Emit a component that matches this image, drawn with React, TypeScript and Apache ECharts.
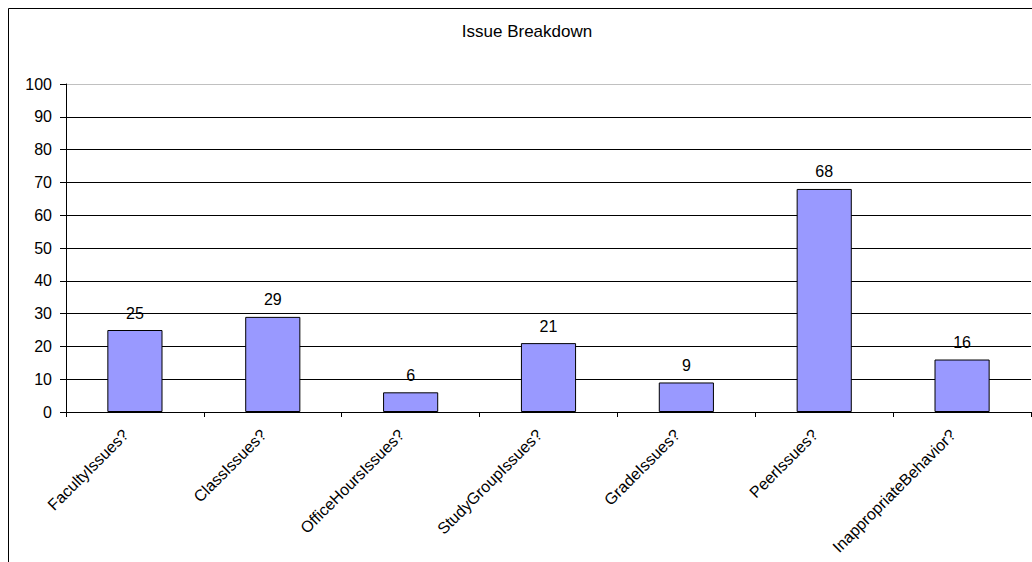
import React, { useEffect, useRef } from "react";
import * as echarts from "echarts";

const categories = [
  "FacultyIssues?",
  "ClassIssues?",
  "OfficeHoursIssues?",
  "StudyGroupIssues?",
  "GradeIssues?",
  "PeerIssues?",
  "InappropriateBehavior?",
];
const values = [25, 29, 6, 21, 9, 68, 16];
const titleText = "Issue Breakdown";

const FONT = "Arial, 'Liberation Sans', sans-serif";

export default function App() {
  const ref = useRef<HTMLDivElement>(null);
  useEffect(() => {
    if (!ref.current) return;
    const chart = echarts.init(ref.current, undefined, { renderer: "svg" });
    const splitColors = Array.from({ length: 11 }, (_, i) => (i === 10 ? "#c0c0c0" : "#000000"));
    chart.setOption({
      animation: false,
      backgroundColor: "#ffffff",
      title: {
        text: titleText,
        left: 522,
        top: 18,
        textAlign: "center",
        textStyle: { fontFamily: FONT, fontSize: 17, fontWeight: "normal", color: "#000" },
      },
      graphic: [
        {
          type: "rect",
          shape: { x: 8.5, y: 8.5, width: 1100, height: 700 },
          style: { fill: "none", stroke: "#000", lineWidth: 1 },
          z: -1,
        },
      ],
      grid: { left: 66, right: 1, top: 84, bottom: 150, containLabel: false },
      xAxis: {
        type: "category",
        data: categories,
        axisLine: { show: true, lineStyle: { color: "#000", width: 1 } },
        axisTick: { show: true, alignWithLabel: false, length: 5, lineStyle: { color: "#000" } },
        axisLabel: {
          rotate: 45,
          interval: 0,
          margin: 11,
          padding: [0, 13, 0, 0],
          fontFamily: FONT,
          fontSize: 16,
          color: "#000",
        },
      },
      yAxis: {
        type: "value",
        min: 0,
        max: 100,
        interval: 10,
        axisLine: { show: true, lineStyle: { color: "#000", width: 1 } },
        axisTick: { show: true, length: 6, lineStyle: { color: "#000" } },
        axisLabel: { fontFamily: FONT, fontSize: 16, color: "#000", margin: 14 },
        splitLine: { show: true, lineStyle: { color: splitColors, width: 1 } },
      },
      series: [
        {
          type: "bar",
          data: values,
          barWidth: "40%",
          itemStyle: { color: "#9999ff", borderColor: "#000", borderWidth: 1 },
          label: {
            show: true,
            position: "top",
            distance: 9,
            fontFamily: FONT,
            fontSize: 16,
            color: "#000",
          },
        },
      ],
    });
    return () => chart.dispose();
  }, []);
  return (
    <div
      ref={ref}
      style={{ position: "fixed", left: 0, top: 0, width: 1032, height: 562 }}
    />
  );
}
